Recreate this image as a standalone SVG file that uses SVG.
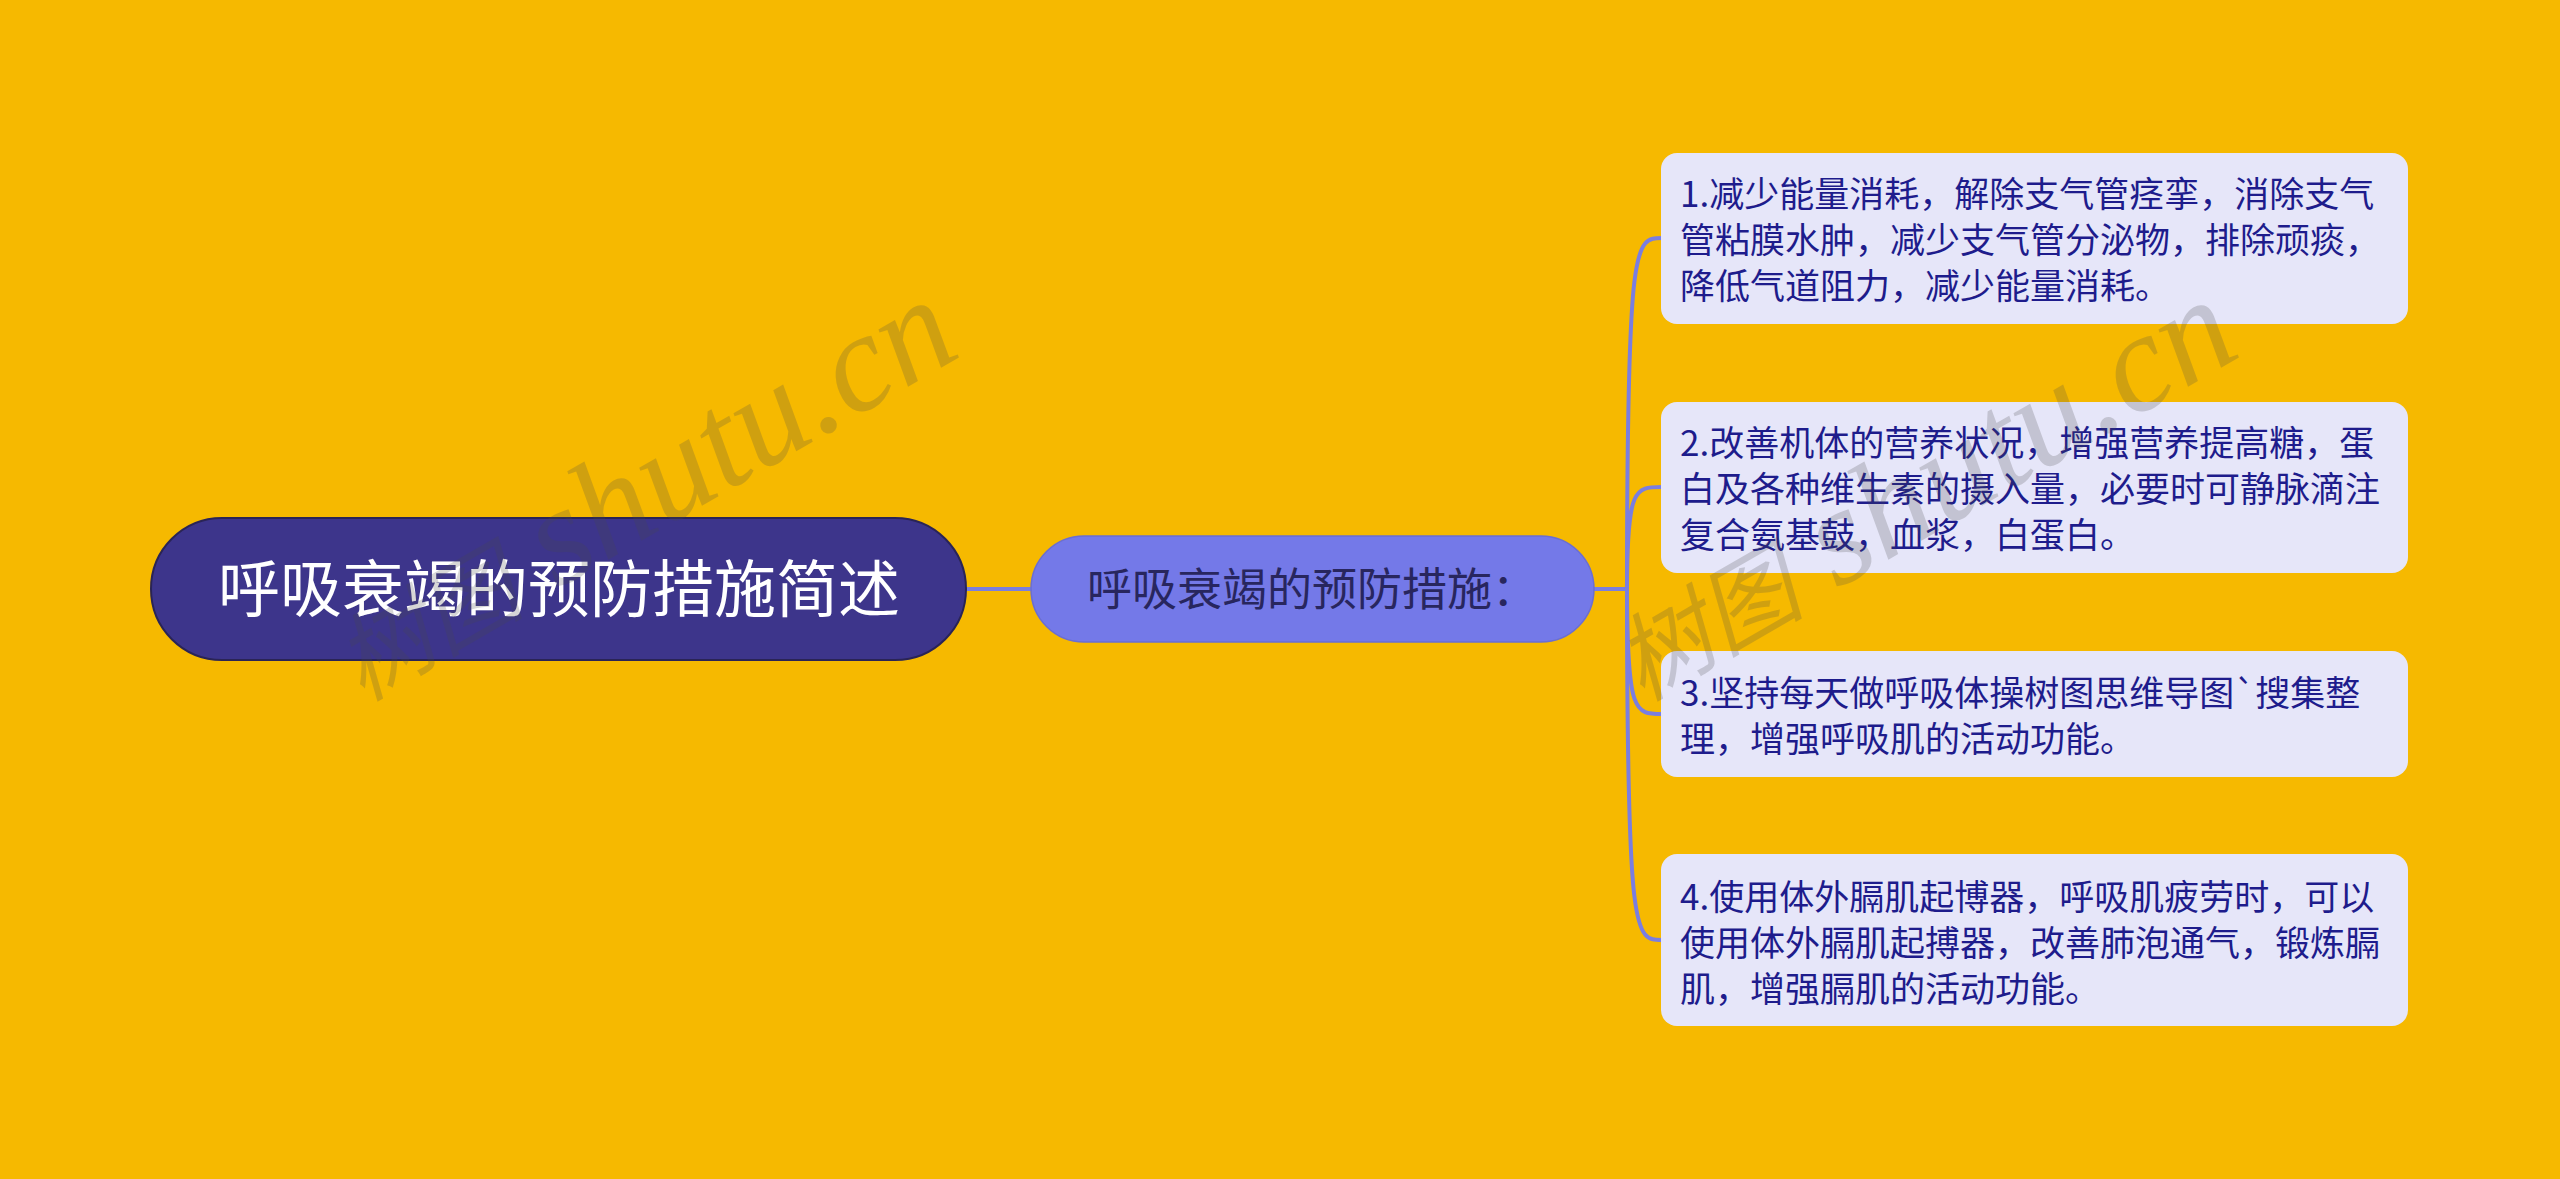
<svg xmlns="http://www.w3.org/2000/svg" width="2560" height="1179" viewBox="0 0 2560 1179">
<style>
.bg{fill:#f6b900}
.root{fill:#3d358b;stroke:#2a2456;stroke-width:2}
.sub{fill:#7479e8;stroke:#6a6ed2;stroke-width:1.5}
.leaf{fill:#e6e6f9}
.edge{fill:none;stroke:#7a7ee0;stroke-width:4;stroke-linecap:round}
.t{font-family:"Noto Sans CJK SC","Noto Sans",sans-serif}
.rt{fill:#ffffff;font-size:62px}
.st{fill:#28265e;font-size:45px}
.lt{fill:#1e1c8c;font-size:35px}
.wm{font-family:"Liberation Serif","Noto Sans CJK SC",serif;font-style:italic;fill:#4a4a4a;opacity:0.22}
</style>
<rect class="bg" x="0" y="0" width="2560" height="1179"/>
<g id="connectors">
<path class="edge" d="M966 589 L1031 589"/>
<path class="edge" d="M1594 589 L1627 589"/>
<path class="edge" d="M1627 589 C1627 238 1635 238 1662 238"/>
<path class="edge" d="M1627 589 C1627 487 1635 487 1662 487"/>
<path class="edge" d="M1627 589 C1627 714 1635 714 1662 714"/>
<path class="edge" d="M1627 589 C1627 940 1635 940 1662 940"/>
</g>
<g id="root">
<rect class="root" x="151" y="518" width="815" height="142" rx="71"/>
<text class="t rt" x="559" y="612" text-anchor="middle">呼吸衰竭的预防措施简述</text>
</g>
<g id="sub">
<rect class="sub" x="1031" y="536" width="563" height="106" rx="53"/>
<text class="t st" x="1312" y="606" text-anchor="middle">呼吸衰竭的预防措施：</text>
</g>
<g id="leaf1">
<rect class="leaf" x="1661" y="153" width="747" height="171" rx="16"/>
<text class="t lt" x="1680"><tspan x="1680" y="207">1.减少能量消耗，解除支气管痉挛，消除支气</tspan><tspan x="1680" y="253">管粘膜水肿，减少支气管分泌物，排除顽痰，</tspan><tspan x="1680" y="299">降低气道阻力，减少能量消耗。</tspan></text>
</g>
<g id="leaf2">
<rect class="leaf" x="1661" y="402" width="747" height="171" rx="16"/>
<text class="t lt" x="1680"><tspan x="1680" y="456">2.改善机体的营养状况，增强营养提高糖，蛋</tspan><tspan x="1680" y="502">白及各种维生素的摄入量，必要时可静脉滴注</tspan><tspan x="1680" y="548">复合氨基鼓，血浆，白蛋白。</tspan></text>
</g>
<g id="leaf3">
<rect class="leaf" x="1661" y="651" width="747" height="126" rx="16"/>
<text class="t lt" x="1680"><tspan x="1680" y="706">3.坚持每天做呼吸体操树图思维导图`搜集整</tspan><tspan x="1680" y="752">理，增强呼吸肌的活动功能。</tspan></text>
</g>
<g id="leaf4">
<rect class="leaf" x="1661" y="854" width="747" height="172" rx="16"/>
<text class="t lt" x="1680"><tspan x="1680" y="910">4.使用体外膈肌起博器，呼吸肌疲劳时，可以</tspan><tspan x="1680" y="956">使用体外膈肌起搏器，改善肺泡通气，锻炼膈</tspan><tspan x="1680" y="1002">肌，增强膈肌的活动功能。</tspan></text>
</g>
<g id="watermarks">
<text class="wm" transform="translate(362 702) rotate(-30)"><tspan font-size="95">树图</tspan><tspan font-size="140"> shutu.cn</tspan></text>
<text class="wm" transform="translate(1642 702) rotate(-30)"><tspan font-size="95">树图</tspan><tspan font-size="140"> shutu.cn</tspan></text>
</g>
</svg>
